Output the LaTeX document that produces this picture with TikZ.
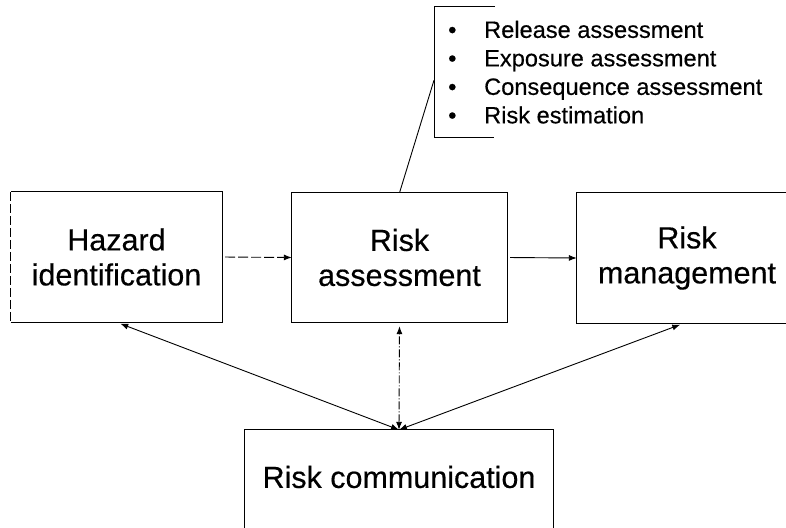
\documentclass[tikz,border=0pt]{standalone}
\usepackage{fontspec}
\setmainfont{Liberation Sans}
\newfontfamily\scanfont[RawFeature={embolden=0.4}]{Liberation Sans}
\usetikzlibrary{arrows.meta}
\begin{document}
\begin{tikzpicture}[x=1pt,y=-1pt,
  boxtext/.style={align=center, font=\scanfont\fontsize{30.5}{35}\selectfont, inner sep=0pt},
  boxline/.style={line width=1pt},
  tip/.style={-{Latex[length=8pt,width=6pt]}},
  conn/.style={line width=0.9pt, tip},
  both/.style={line width=0.9pt, {Latex[length=8pt,width=6pt]}-{Latex[length=8pt,width=6pt]}}]
\useasboundingbox (0,0) rectangle (786,527);
% boxes
\node[boxtext, minimum width=211pt, minimum height=130pt] (hz) at (116.5,257) {Hazard\\identification};
\draw[boxline] (hz.south west) -- (hz.south east) -- (hz.north east) -- (hz.north west);
\draw[boxline, dash pattern=on 9pt off 3pt] (hz.north west) -- (hz.south west);
\node[boxtext, minimum width=215pt, minimum height=129pt] (ra) at (399.5,257.5) {Risk\\assessment};
\draw[boxline] (ra.north west) rectangle (ra.south east);
\node[boxtext, minimum width=220pt, minimum height=130pt] (rm) at (687,258) {Risk\\management};
\draw[boxline] ([xshift=12pt]rm.north east) -- (rm.north west) -- (rm.south west) -- ([xshift=12pt]rm.south east);
\node[boxtext, minimum width=308pt, minimum height=94pt] (rc) at (399,477) {Risk communication};
\draw[boxline] ([yshift=-12pt]rc.south west) -- (rc.north west) -- (rc.north east) -- ([yshift=-12pt]rc.south east);
% list
\node[anchor=north west, align=left, inner xsep=14pt, inner ysep=0pt, minimum height=130pt,
      font=\scanfont\fontsize{23.6}{28.5}\selectfont] (ls) at (434,7)
  {\makebox[36pt][l]{•}Release assessment\\
   \makebox[36pt][l]{•}Exposure assessment\\
   \makebox[36pt][l]{•}Consequence assessment\\
   \makebox[36pt][l]{•}Risk estimation};
\draw[boxline] ([xshift=61pt]ls.north west) -- (ls.north west) -- (ls.south west) -- ([xshift=60pt]ls.south west);
% connectors
\draw[line width=0.9pt] (ra.north) -- ([yshift=-8pt]ls.west);
\draw[conn, dash pattern=on 10pt off 3pt, shorten <=3pt] (hz.east) -- (ra.west);
\draw[conn, shorten <=3pt] (ra.east) -- (rm.west);
\draw[both, shorten >=4pt] (rc.north) -- (hz.south);
\draw[both, dash pattern=on 8pt off 2pt on 1pt off 2pt, shorten >=4pt] (rc.north) -- (ra.south);
\draw[both, shorten >=4pt] (rc.north) -- ([xshift=-3pt]rm.south);
\end{tikzpicture}
\end{document}
